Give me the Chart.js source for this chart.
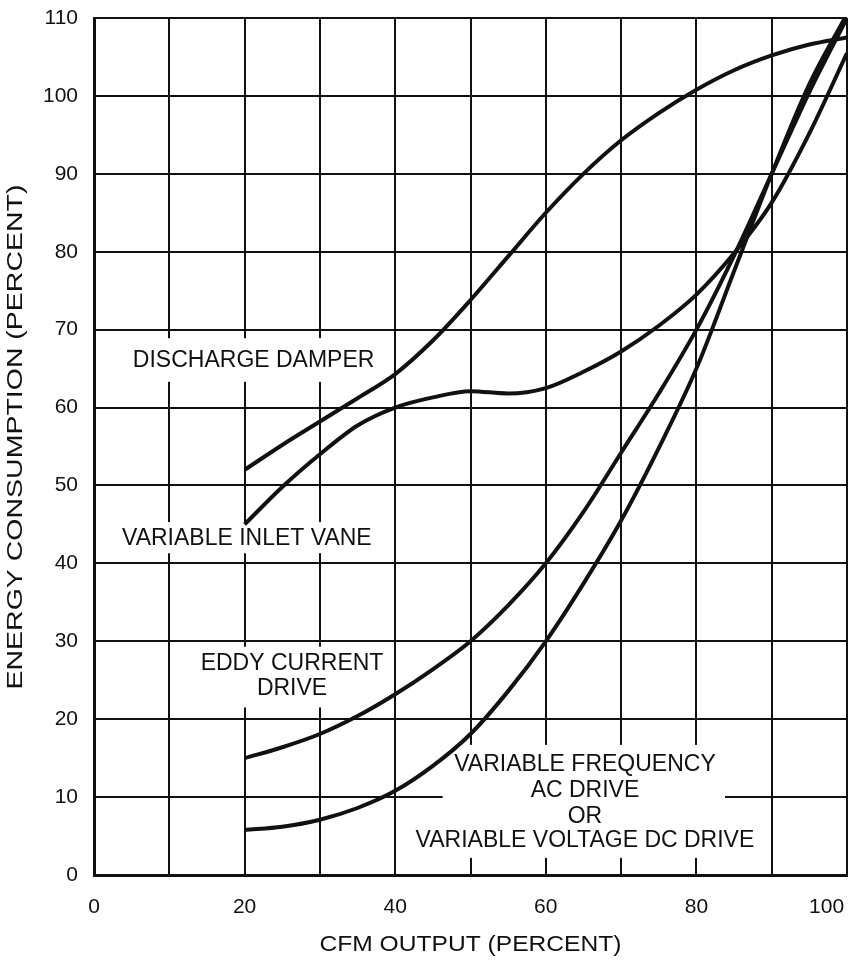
<!DOCTYPE html>
<html>
<head>
<meta charset="utf-8">
<title>Fan energy consumption</title>
<script src="https://cdn.jsdelivr.net/npm/chart.js@4/dist/chart.umd.min.js"></script>
<style>
  html, body { margin: 0; padding: 0; background: #fff; }
  #wrap { width: 848px; height: 963px; }
</style>
</head>
<body>
<div id="wrap"><canvas id="fan-chart"></canvas></div>
<script>
// values, every 5% of CFM output
const cfmOutput = [20, 25, 30, 35, 40, 45, 50, 55, 60, 65, 70, 75, 80, 85, 90, 95, 100];
const dischargeDamper = [52, 55.2, 58.2, 61.2, 64.3, 68.6, 73.8, 79.4, 85, 90, 94.3, 97.8, 100.8, 103.3, 105.2, 106.6, 107.5];
const inletVane = [45, 49.8, 54, 57.7, 60, 61.3, 62.1, 61.8, 62.5, 64.6, 67.2, 70.5, 74.5, 79.8, 86.3, 95.2, 105.5];
const eddyCurrent = [15, 16.4, 18.1, 20.4, 23.2, 26.4, 30, 34.6, 40, 46.6, 54.2, 61.8, 70, 79.5, 90, 100.5, 110];
const variableFreq = [5.8, 6.2, 7.1, 8.6, 10.8, 14, 18.1, 23.6, 30, 37.4, 45.5, 54.8, 65, 77.5, 90, 101.5, 110.5];

const xTicks = [0, 20, 40, 60, 80, 100];
const xTitle = 'CFM OUTPUT (PERCENT)';
const yTitle = 'ENERGY CONSUMPTION (PERCENT)';

// curve labels: text lines, centre (data units) and the white patch behind them
const curveLabels = [
    { lines: ['DISCHARGE DAMPER'], x: 21.2, y: 66.0, box: [3, 38, 63.3, 68.9] },
    { lines: ['VARIABLE INLET VANE'], x: 20.3, y: 43.2, box: [2.5, 38.5, 41.3, 45.3] },
    { lines: ['EDDY CURRENT', 'DRIVE'], x: 26.3, y: [27.1, 23.9], box: [13.5, 39, 21.5, 29.3] },
    { lines: ['VARIABLE FREQUENCY', 'AC DRIVE', 'OR', 'VARIABLE VOLTAGE DC DRIVE'],
      x: 65.2, y: [14.1, 10.8, 7.5, 4.4], box: [46.3, 83.8, 2.2, 16.7] }
];

const FONT = '"Liberation Sans", Arial, Helvetica, sans-serif';
const INK = '#111';

function toPoints(values) {
    return cfmOutput.map((x, i) => ({ x: x, y: values[i] }));
}

function curve(label, values) {
    return {
        label: label,
        data: toPoints(values),
        borderColor: INK,
        borderWidth: 4,
        pointRadius: 0,
        fill: false,
        cubicInterpolationMode: 'monotone'
    };
}

// labels overflowing the plot must not shrink it, the box is fixed
function noLabelPadding(s) {
    s.paddingLeft = 0;
    s.paddingRight = 0;
    s.paddingTop = 0;
    s.paddingBottom = 0;
}

// the scan's lettering is wider than Arial, so titles get stretched to length
function stretchedText(ctx, text, cx, cy, length, angle) {
    ctx.save();
    ctx.translate(cx, cy);
    ctx.rotate(angle);
    ctx.scale(length / ctx.measureText(text).width, 1);
    ctx.fillText(text, 0, 0);
    ctx.restore();
}

// white patches over the grid + the curve names, then the axis titles
const labelPlugin = {
    id: 'curveLabels',
    beforeDatasetsDraw(chart) {
        const ctx = chart.ctx;
        const xs = chart.scales.x;
        const ys = chart.scales.y;
        ctx.save();
        curveLabels.forEach(l => {
            const x0 = xs.getPixelForValue(l.box[0]);
            const x1 = xs.getPixelForValue(l.box[1]);
            const y0 = ys.getPixelForValue(l.box[3]);
            const y1 = ys.getPixelForValue(l.box[2]);
            ctx.fillStyle = '#fff';
            ctx.fillRect(x0, y0, x1 - x0, y1 - y0);
        });
        ctx.fillStyle = INK;
        ctx.font = '23px ' + FONT;
        ctx.textAlign = 'center';
        ctx.textBaseline = 'middle';
        curveLabels.forEach(l => {
            const cx = xs.getPixelForValue(l.x);
            l.lines.forEach((t, i) => {
                const yv = Array.isArray(l.y) ? l.y[i] : l.y;
                ctx.fillText(t, cx, ys.getPixelForValue(yv));
            });
        });
        ctx.restore();
    },
    afterDraw(chart) {
        const ctx = chart.ctx;
        const area = chart.chartArea;
        ctx.save();
        ctx.fillStyle = INK;
        ctx.font = '22px ' + FONT;
        ctx.textAlign = 'center';
        ctx.textBaseline = 'middle';
        stretchedText(ctx, xTitle, (area.left + area.right) / 2, 945, 302, 0);
        stretchedText(ctx, yTitle, 16, 437, 505, -Math.PI / 2);
        ctx.restore();
    }
};

new Chart(document.getElementById('fan-chart'), {
    type: 'line',
    data: {
        datasets: [
            curve('Discharge damper', dischargeDamper),
            curve('Variable inlet vane', inletVane),
            curve('Eddy current drive', eddyCurrent),
            curve('Variable frequency AC / variable voltage DC drive', variableFreq)
        ]
    },
    options: {
        responsive: true,
        maintainAspectRatio: false,
        animation: false,
        layout: {
            autoPadding: false,
            padding: { top: 18, right: 1, left: 0, bottom: 0 }
        },
        plugins: {
            legend: { display: false },
            tooltip: { enabled: false }
        },
        scales: {
            x: {
                type: 'linear',
                min: 0,
                max: 100,
                afterFit: s => { s.height = 88; noLabelPadding(s); },
                grid: { color: INK, lineWidth: 2, drawTicks: false },
                border: { color: INK, width: 3 },
                ticks: {
                    stepSize: 10,
                    autoSkip: false,
                    padding: 20,
                    color: INK,
                    maxRotation: 0,
                    font: { family: FONT, size: 21 },
                    // 100 sits a little left of its grid line in the original
                    callback: v => xTicks.includes(v) ? (v === 100 ? '100       ' : String(v)) : ''
                }
            },
            y: {
                min: 0,
                max: 110,
                afterFit: s => { s.width = 94; noLabelPadding(s); },
                grid: { color: INK, lineWidth: 2, drawTicks: false },
                border: { color: INK, width: 3 },
                ticks: {
                    stepSize: 10,
                    autoSkip: false,
                    padding: 16,
                    color: INK,
                    font: { family: FONT, size: 21 }
                }
            }
        }
    },
    plugins: [labelPlugin]
});
</script>
</body>
</html>
